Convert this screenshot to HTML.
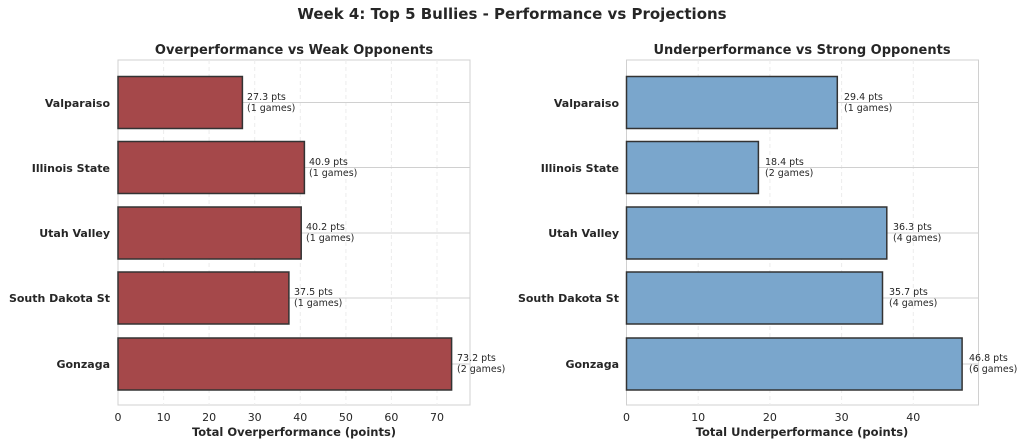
<!DOCTYPE html>
<html><head><style>body{margin:0;background:#fff}svg{display:block}text{font-family:"DejaVu Sans","Liberation Sans",sans-serif;fill:#262626}</style></head><body>
<svg width="1024" height="445" xmlns="http://www.w3.org/2000/svg">
<text x="512" y="19" font-size="15" font-weight="bold" text-anchor="middle">Week 4: Top 5 Bullies - Performance vs Projections</text>
<!-- Left -->
<text x="294" y="54" font-size="13" font-weight="bold" text-anchor="middle">Overperformance vs Weak Opponents</text>
<rect x="118" y="60" width="352" height="345" fill="#fff" stroke="#d0d0d0"/>
<g stroke="#ececec" stroke-dasharray="4,3">
<line x1="163.6" y1="60" x2="163.6" y2="405"/><line x1="209.1" y1="60" x2="209.1" y2="405"/><line x1="254.7" y1="60" x2="254.7" y2="405"/><line x1="300.3" y1="60" x2="300.3" y2="405"/><line x1="345.9" y1="60" x2="345.9" y2="405"/><line x1="391.4" y1="60" x2="391.4" y2="405"/><line x1="437" y1="60" x2="437" y2="405"/></g>
<g stroke="#d0d0d0"><line x1="118" y1="102.5" x2="470" y2="102.5"/><line x1="118" y1="167.5" x2="470" y2="167.5"/><line x1="118" y1="233" x2="470" y2="233"/><line x1="118" y1="298" x2="470" y2="298"/><line x1="118" y1="364" x2="470" y2="364"/></g>
<g fill="#a5484a" stroke="#333" stroke-width="1.5">
<rect x="118" y="76.5" width="124.4" height="52"/><rect x="118" y="141.5" width="186.4" height="52"/><rect x="118" y="207" width="183.2" height="52"/><rect x="118" y="272" width="170.9" height="52"/><rect x="118" y="338" width="333.6" height="52"/></g>
<g font-size="9.5"><text x="247" y="100">27.3 pts</text><text x="247" y="111">(1 games)</text>
<text x="309" y="165">40.9 pts</text><text x="309" y="176">(1 games)</text>
<text x="306" y="230">40.2 pts</text><text x="306" y="241">(1 games)</text>
<text x="294" y="295">37.5 pts</text><text x="294" y="306">(1 games)</text>
<text x="457" y="361">73.2 pts</text><text x="457" y="372">(2 games)</text></g>
<g font-size="11" font-weight="bold" text-anchor="end"><text x="110" y="107">Valparaiso</text><text x="110" y="172">Illinois State</text><text x="110" y="237">Utah Valley</text><text x="110" y="302">South Dakota St</text><text x="110" y="368">Gonzaga</text></g>
<g font-size="11" text-anchor="middle"><text x="118" y="421">0</text><text x="163.6" y="421">10</text><text x="209.1" y="421">20</text><text x="254.7" y="421">30</text><text x="300.3" y="421">40</text><text x="345.9" y="421">50</text><text x="391.4" y="421">60</text><text x="437" y="421">70</text></g>
<text x="294" y="436" font-size="11.5" font-weight="bold" text-anchor="middle">Total Overperformance (points)</text>
<!-- Right -->
<text x="802" y="54" font-size="13" font-weight="bold" text-anchor="middle">Underperformance vs Strong Opponents</text>
<rect x="626.5" y="60" width="352" height="345" fill="#fff" stroke="#d0d0d0"/>
<g stroke="#ececec" stroke-dasharray="4,3">
<line x1="698.2" y1="60" x2="698.2" y2="405"/><line x1="769.9" y1="60" x2="769.9" y2="405"/><line x1="841.6" y1="60" x2="841.6" y2="405"/><line x1="913.3" y1="60" x2="913.3" y2="405"/></g>
<g stroke="#d0d0d0"><line x1="626.5" y1="102.5" x2="978.5" y2="102.5"/><line x1="626.5" y1="167.5" x2="978.5" y2="167.5"/><line x1="626.5" y1="233" x2="978.5" y2="233"/><line x1="626.5" y1="298" x2="978.5" y2="298"/><line x1="626.5" y1="364" x2="978.5" y2="364"/></g>
<g fill="#7aa6cc" stroke="#333" stroke-width="1.5">
<rect x="626.5" y="76.5" width="210.8" height="52"/><rect x="626.5" y="141.5" width="131.9" height="52"/><rect x="626.5" y="207" width="260.3" height="52"/><rect x="626.5" y="272" width="256" height="52"/><rect x="626.5" y="338" width="335.6" height="52"/></g>
<g font-size="9.5"><text x="844" y="100">29.4 pts</text><text x="844" y="111">(1 games)</text>
<text x="765" y="165">18.4 pts</text><text x="765" y="176">(2 games)</text>
<text x="893" y="230">36.3 pts</text><text x="893" y="241">(4 games)</text>
<text x="889" y="295">35.7 pts</text><text x="889" y="306">(4 games)</text>
<text x="969" y="361">46.8 pts</text><text x="969" y="372">(6 games)</text></g>
<g font-size="11" font-weight="bold" text-anchor="end"><text x="619" y="107">Valparaiso</text><text x="619" y="172">Illinois State</text><text x="619" y="237">Utah Valley</text><text x="619" y="302">South Dakota St</text><text x="619" y="368">Gonzaga</text></g>
<g font-size="11" text-anchor="middle"><text x="626.5" y="421">0</text><text x="698.2" y="421">10</text><text x="769.9" y="421">20</text><text x="841.6" y="421">30</text><text x="913.3" y="421">40</text></g>
<text x="802" y="436" font-size="11.5" font-weight="bold" text-anchor="middle">Total Underperformance (points)</text>
</svg>
</body></html>
